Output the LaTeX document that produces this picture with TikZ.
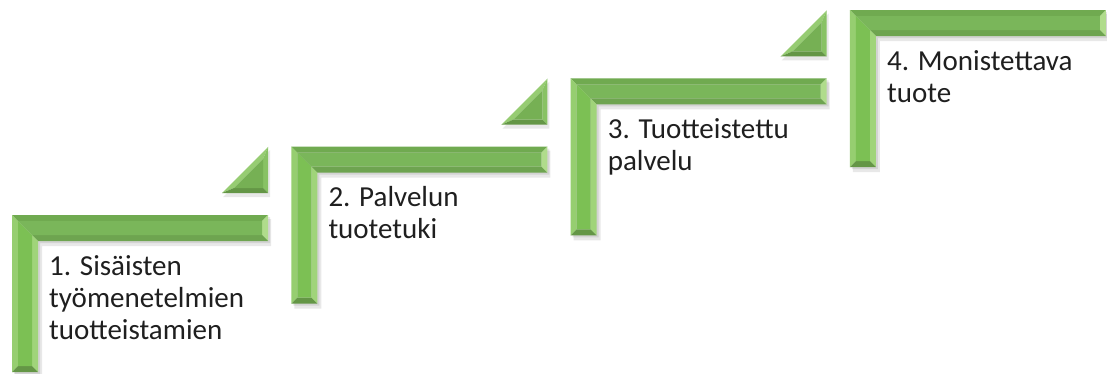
\documentclass[tikz,border=0pt]{standalone}
\usepackage{fontspec}
\setmainfont{Carlito}
\definecolor{gfaceH}{RGB}{122,182,90}
\definecolor{gfaceV}{RGB}{124,192,84}
\definecolor{gtop}{RGB}{112,170,80}
\definecolor{gleft}{RGB}{150,206,112}
\definecolor{gend}{RGB}{176,220,140}
\definecolor{gbarbot}{RGB}{110,164,80}
\definecolor{ginner}{RGB}{160,212,122}
\definecolor{gbot}{RGB}{100,150,70}
\definecolor{tface}{RGB}{118,176,84}
\definecolor{thyp}{RGB}{150,204,114}
\definecolor{tright}{RGB}{136,194,100}
\definecolor{tbot}{RGB}{100,150,70}
\tikzset{
  lbl/.style={anchor=base west, inner sep=0pt, align=left,
              font=\fontsize{29}{32}\selectfont, text=black!88},
  shadowfill/.style={fill=black, opacity=0.09}
}
\newcommand\stepL[1]{%
  \begin{scope}[shift={(#1)}]
    % soft shadow
    \fill[shadowfill] (3,4) -- (259,4) -- (259,31) -- (30,31) -- (30,162) -- (3,162) -- cycle;
    \fill[shadowfill] (2,2) -- (258,2) -- (258,28) -- (28,28) -- (28,159) -- (2,159) -- cycle;
    % facets
    \fill[gtop] (0,0) -- (256,0) -- (250,6) -- (6,6) -- cycle;
    \fill[gleft] (0,0) -- (6,6) -- (6,151) -- (0,157) -- cycle;
    \fill[gend] (256,0) -- (256,26) -- (250,20) -- (250,6) -- cycle;
    \fill[gbarbot] (256,26) -- (26,26) -- (20,20) -- (250,20) -- cycle;
    \fill[ginner] (26,26) -- (26,157) -- (20,151) -- (20,20) -- cycle;
    \fill[gbot] (0,157) -- (26,157) -- (20,151) -- (6,151) -- cycle;
    % faces
    \fill[gfaceH] (6,6) -- (250,6) -- (250,20) -- (20,20) -- cycle;
    \fill[gfaceV] (6,6) -- (20,20) -- (20,151) -- (6,151) -- cycle;
  \end{scope}}
\newcommand\stepT[1]{%
  \begin{scope}[shift={(#1)}]
    \fill[shadowfill] (48,3) -- (48,50) -- (1,50) -- cycle;
    \fill[thyp] (46,0) -- (0,46) -- (12,41) -- (41,12) -- cycle;
    \fill[tright] (46,0) -- (46,46) -- (41,41) -- (41,12) -- cycle;
    \fill[tbot] (0,46) -- (46,46) -- (41,41) -- (12,41) -- cycle;
    \fill[tface] (41,12) -- (12,41) -- (41,41) -- cycle;
  \end{scope}}
\begin{document}
\begin{tikzpicture}[x=1pt,y=-1pt]
\useasboundingbox (0,0) rectangle (1107,374);
\fill[white] (0,0) rectangle (1107,374);
% L shapes
\stepL{12,215}
\stepL{291.3,146.7}
\stepL{570.6,78.4}
\stepL{849.9,10.1}
% triangles
\stepT{222,147}
\stepT{501.3,78.7}
\stepT{780.6,10.4}
% labels (anchored at the baseline of the last line)
\node[lbl] (t1) at (49,339) {1. Sisäisten\\työmenetelmien\\tuotteistamien};
\node[lbl] (t2) at (328.3,238.7) {2. Palvelun\\tuotetuki};
\node[lbl] (t3) at (607.6,170.4) {3. Tuotteistettu\\palvelu};
\node[lbl] (t4) at (886.9,102.1) {4. Monistettava\\tuote};
\end{tikzpicture}
\end{document}
